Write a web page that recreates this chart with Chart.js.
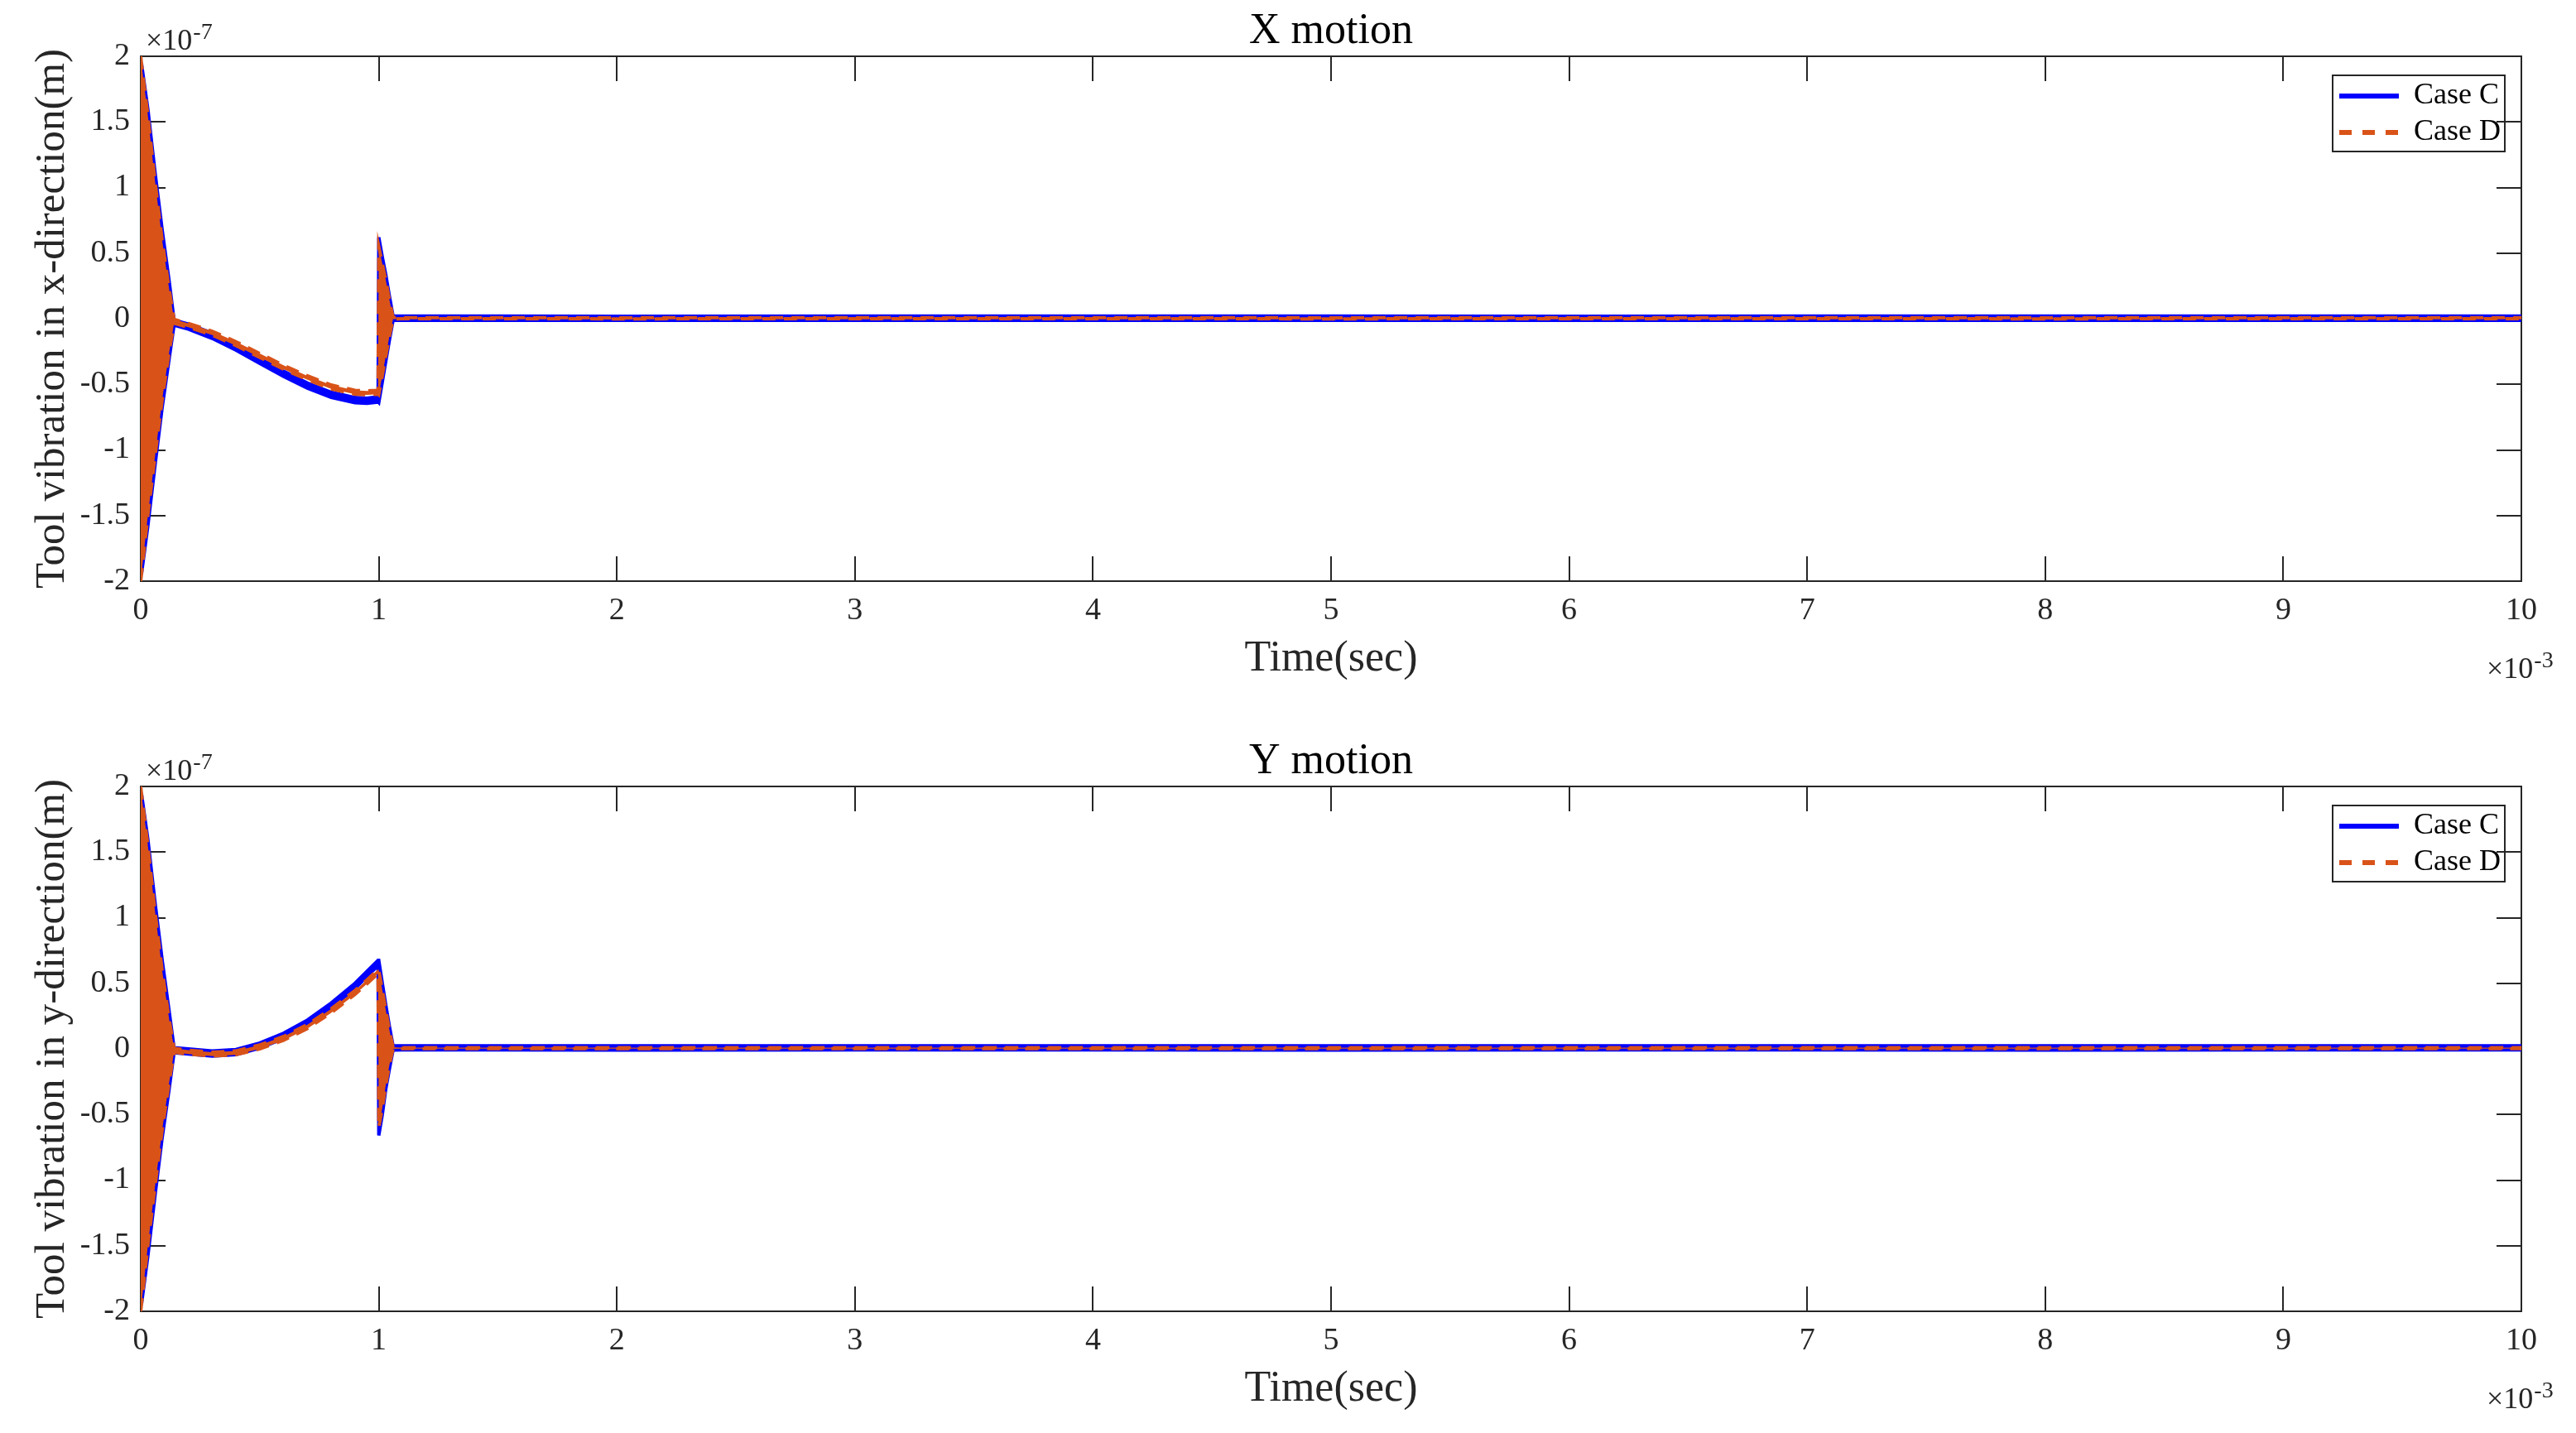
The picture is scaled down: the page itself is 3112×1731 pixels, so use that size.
<!DOCTYPE html>
<html>
<head>
<meta charset="utf-8">
<title>Tool vibration - X and Y motion</title>
<script src="https://cdn.jsdelivr.net/npm/chart.js@4.4.1/dist/chart.umd.min.js"></script>
<style>
    html, body { margin: 0; padding: 0; background: #fff; overflow: hidden; }
    #wrap { position: relative; width: 3112px; height: 1731px; }
    #wrap canvas { position: absolute; left: 0; width: 3112px; height: 849px; }
    #x-motion { top: 0; }
    #y-motion { top: 882px; }
</style>
</head>
<body>
<div id="wrap">
    <canvas id="x-motion" width="3112" height="849"></canvas>
    <canvas id="y-motion" width="3112" height="849"></canvas>
</div>
<script>
"use strict";

// Time samples (x10^-3 s)
const time = [0, 0.003, 0.03, 0.06, 0.09, 0.12, 0.14, 0.2, 0.3, 0.4, 0.5, 0.6, 0.7, 0.8, 0.9, 0.95, 0.997,
    1.0, 1.015, 1.03, 1.045, 1.06, 1.1, 1.5, 2, 3, 4, 5, 6, 7, 8, 9, 10];

const xTickLabels = ['0', '1', '2', '3', '4', '5', '6', '7', '8', '9', '10'];
const yTickLabels = ['-2', '-1.5', '-1', '-0.5', '0', '0.5', '1', '1.5', '2'];

// X motion, oscillation envelopes (x10^-7 m)
const xCaseCUpper = [1.92, 1.95, 1.6, 1.12, 0.68, 0.28, -0.01, -0.04, -0.11, -0.2, -0.3, -0.4, -0.49, -0.56, -0.6, -0.605, -0.595,
    0.62, 0.47, 0.33, 0.17, 0.022, 0.02, 0.02, 0.019, 0.02, 0.021, 0.02, 0.019, 0.021, 0.02, 0.02, 0.02];
const xCaseCLower = [-1.92, -1.95, -1.58, -1.12, -0.68, -0.3, -0.05, -0.08, -0.15, -0.24, -0.34, -0.44, -0.53, -0.6, -0.64, -0.645, -0.635,
    -0.64, -0.48, -0.32, -0.16, -0.013, -0.012, -0.013, -0.012, -0.012, -0.013, -0.012, -0.012, -0.013, -0.012, -0.012, -0.012];
const xCaseDUpper = [2.0, 1.95, 1.55, 1.05, 0.6, 0.22, -0.005, -0.035, -0.095, -0.175, -0.265, -0.355, -0.435, -0.505, -0.545, -0.55, -0.545,
    0.55, 0.42, 0.29, 0.14, 0.01, 0.008, 0.008, 0.007, 0.008, 0.008, 0.007, 0.008, 0.008, 0.007, 0.008, 0.008];
const xCaseDLower = [-2.0, -1.95, -1.5, -1.05, -0.62, -0.25, -0.035, -0.065, -0.125, -0.205, -0.295, -0.385, -0.465, -0.535, -0.575, -0.58, -0.575,
    -0.58, -0.43, -0.28, -0.13, -0.002, 0.0, 0.0, -0.001, 0.0, 0.0, -0.001, 0.0, 0.0, -0.001, 0.0, 0.0];

// Y motion, oscillation envelopes (x10^-7 m)
const yCaseCUpper = [1.92, 1.95, 1.6, 1.12, 0.68, 0.28, 0.01, 0.0, -0.015, -0.005, 0.045, 0.12, 0.22, 0.35, 0.5, 0.59, 0.675,
    0.675, 0.5, 0.33, 0.17, 0.025, 0.024, 0.024, 0.023, 0.024, 0.024, 0.023, 0.024, 0.024, 0.023, 0.024, 0.024];
const yCaseCLower = [-1.92, -1.95, -1.58, -1.12, -0.68, -0.3, -0.03, -0.04, -0.055, -0.045, 0.005, 0.08, 0.18, 0.31, 0.46, 0.55, 0.635,
    -0.66, -0.5, -0.3, -0.15, -0.01, -0.008, -0.008, -0.009, -0.008, -0.008, -0.009, -0.008, -0.008, -0.009, -0.008, -0.008];
const yCaseDUpper = [2.0, 1.95, 1.55, 1.05, 0.6, 0.22, 0.005, -0.01, -0.025, -0.015, 0.03, 0.095, 0.185, 0.305, 0.445, 0.525, 0.605,
    0.6, 0.45, 0.29, 0.14, 0.012, 0.01, 0.01, 0.009, 0.01, 0.01, 0.009, 0.01, 0.01, 0.009, 0.01, 0.01];
const yCaseDLower = [-2.0, -1.95, -1.5, -1.05, -0.62, -0.25, -0.025, -0.04, -0.055, -0.045, 0.0, 0.065, 0.155, 0.275, 0.415, 0.495, 0.575,
    -0.6, -0.45, -0.27, -0.12, 0.0, 0.002, 0.002, 0.001, 0.002, 0.002, 0.001, 0.002, 0.002, 0.001, 0.002, 0.002];

const blue = '#0000ff';
const orange = '#d95319';
const axisColor = '#262626';

Chart.defaults.font.family = '"Liberation Serif", "Times New Roman", serif';
Chart.defaults.color = axisColor;


function points(values) {
    return time.map(function (t, i) {
        return {x: t, y: values[i]};
    });
}

// one case = upper envelope + lower envelope filled together
function band(label, upper, lower, color, order, dash) {
    const common = {
        label: label,
        borderColor: color,
        backgroundColor: color,
        borderWidth: 4,
        borderDash: dash,
        pointRadius: 0,
        tension: 0,
        order: order
    };
    return [
        Object.assign({data: points(upper), fill: false}, common),
        Object.assign({data: points(lower), fill: '-1'}, common)
    ];
}

// "x10^n" multiplier like the MATLAB axes
function power(ctx, x, y, exp) {
    ctx.font = '36px "Liberation Serif"';
    ctx.fillStyle = axisColor;
    ctx.textAlign = 'left';
    ctx.textBaseline = 'alphabetic';
    ctx.fillText('\u00d710', x, y);
    const w = ctx.measureText('\u00d710').width;
    ctx.font = '28px "Liberation Serif"';
    ctx.fillText(exp, x + w + 1, y - 13);
}

const matlabFrame = {
    id: 'matlabFrame',
    beforeDraw: function (chart) {
        // legend in the upper right corner of the axes
        const a = chart.chartArea;
        const lg = chart.legend;
        lg.left = a.right - 228;
        lg.top = a.top + 22;
        lg.width = 208;
        lg.height = 100;
        lg.right = lg.left + lg.width;
        lg.bottom = lg.top + lg.height;
    },
    afterDraw: function (chart) {
        const ctx = chart.ctx;
        const a = chart.chartArea;
        ctx.save();
        ctx.strokeStyle = axisColor;
        ctx.lineWidth = 2;
        ctx.strokeRect(a.right - 228, a.top + 23, 208, 92);
        power(ctx, a.left + 6, a.top - 8, '-7');
        power(ctx, a.right - 42, a.bottom + 117, '-3');
        ctx.restore();
    }
};

function edgeGrid() {
    return {drawOnChartArea: false, drawTicks: true, tickLength: -30, color: axisColor, lineWidth: 2};
}

function makeChart(id, title, ylabel, upperC, lowerC, upperD, lowerD) {
    return new Chart(document.getElementById(id), {
        type: 'line',
        data: {
            datasets: band('Case D', upperD, lowerD, orange, 1, [16, 10])
                .concat(band('Case C', upperC, lowerC, blue, 2, []))
        },
        options: {
            responsive: false,
            animation: false,
            devicePixelRatio: 1,
            events: [],
            layout: {padding: {left: 0, right: 65, top: 0, bottom: 0}},
            plugins: {
                tooltip: {enabled: false},
                title: {
                    display: true,
                    text: title,
                    fullSize: false,
                    color: '#000',
                    font: {size: 52, weight: 'normal', lineHeight: 1},
                    padding: {top: 12, bottom: 4}
                },
                legend: {
                    position: 'chartArea',
                    align: 'start',
                    labels: {
                        usePointStyle: true,
                        pointStyleWidth: 72,
                        padding: 8,
                        color: '#000',
                        font: {size: 36, lineHeight: 1},
                        generateLabels: function () {
                            return [
                                {text: 'Case C', fontColor: '#000', strokeStyle: blue, fillStyle: blue,
                                    lineWidth: 6, lineDash: [], pointStyle: 'line', hidden: false, datasetIndex: 2},
                                {text: 'Case D', fontColor: '#000', strokeStyle: orange, fillStyle: orange,
                                    lineWidth: 6, lineDash: [15, 13], pointStyle: 'line', hidden: false, datasetIndex: 0}
                            ];
                        }
                    }
                }
            },
            scales: {
                x: {
                    type: 'linear',
                    position: 'bottom',
                    min: 0,
                    max: 10,
                    ticks: {
                        stepSize: 1,
                        autoSkip: false,
                        maxRotation: 0,
                        padding: 47,
                        font: {size: 38, lineHeight: 1},
                        callback: function (v, i) { return xTickLabels[i]; }
                    },
                    grid: edgeGrid(),
                    border: {display: true, color: axisColor, width: 2},
                    title: {
                        display: true,
                        text: 'Time(sec)',
                        font: {size: 52, lineHeight: 1},
                        padding: {top: 0, bottom: 27}
                    },
                    afterFit: function (s) { s.height = 147; }
                },
                x2: {
                    type: 'linear',
                    position: 'top',
                    min: 0,
                    max: 10,
                    ticks: {stepSize: 1, display: false},
                    grid: edgeGrid(),
                    border: {display: true, color: axisColor, width: 2},
                    afterFit: function (s) { s.height = 0; }
                },
                y: {
                    type: 'linear',
                    position: 'left',
                    min: -2,
                    max: 2,
                    ticks: {
                        stepSize: 0.5,
                        autoSkip: false,
                        padding: 43,
                        font: {size: 38, lineHeight: 1},
                        callback: function (v, i) { return yTickLabels[i]; }
                    },
                    grid: edgeGrid(),
                    border: {display: true, color: axisColor, width: 2},
                    title: {
                        display: true,
                        text: ylabel,
                        font: {size: 51, lineHeight: 1},
                        padding: {top: 38, bottom: 0}
                    },
                    afterFit: function (s) { s.width = 170; }
                },
                y2: {
                    type: 'linear',
                    position: 'right',
                    min: -2,
                    max: 2,
                    ticks: {stepSize: 0.5, display: false},
                    grid: edgeGrid(),
                    border: {display: true, color: axisColor, width: 2},
                    afterFit: function (s) { s.width = 0; }
                }
            }
        },
        plugins: [matlabFrame]
    });
}


// X motion chart
makeChart('x-motion', 'X motion', 'Tool vibration in x-direction(m)',
    xCaseCUpper, xCaseCLower, xCaseDUpper, xCaseDLower);

// Y motion chart
makeChart('y-motion', 'Y motion', 'Tool vibration in y-direction(m)',
    yCaseCUpper, yCaseCLower, yCaseDUpper, yCaseDLower);
</script>
</body>
</html>
